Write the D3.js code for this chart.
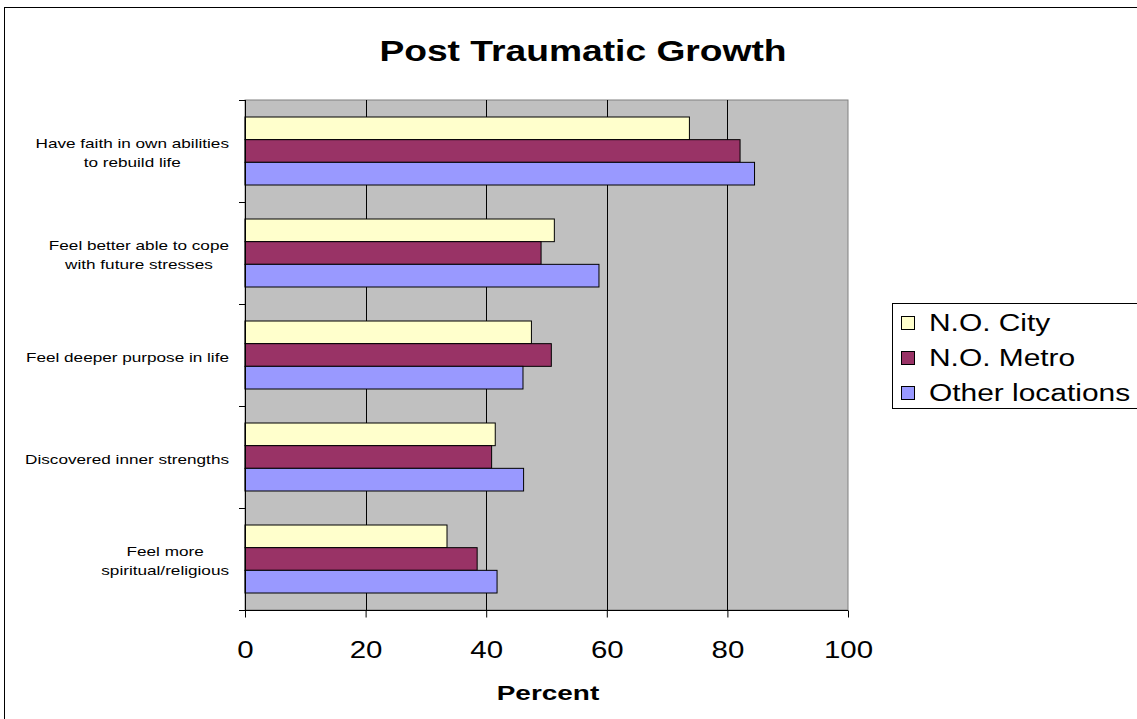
<!DOCTYPE html>
<html>
<head>
<meta charset="utf-8">
<script src="https://cdn.jsdelivr.net/npm/d3@7"></script>
<style>
  html, body { margin: 0; padding: 0; background: #fff; }
  svg { display: block; }
  text { font-family: "Liberation Sans", Arial, sans-serif; }
</style>
</head>
<body>
<svg id="chart" width="1137" height="719"></svg>
<script>
// Survey items (top to bottom), each label split into its wrapped lines
const categories = [
  ["Have faith in own abilities", "to rebuild life"],
  ["Feel better able to cope", "with future stresses"],
  ["Feel deeper purpose in life"],
  ["Discovered inner strengths"],
  ["Feel more", "spiritual/religious"]
];
const seriesNames = ["N.O. City", "N.O. Metro", "Other locations"];
const seriesColors = ["#FFFFCC", "#993366", "#9999FF"];
const noCity  = [73.7, 51.3, 47.5, 41.5, 33.5];
const noMetro = [82.1, 49.1, 50.8, 40.9, 38.5];
const other   = [84.5, 58.7, 46.1, 46.2, 41.8];
const xTicks = [0, 20, 40, 60, 80, 100];

const series = [noCity, noMetro, other];
const svg = d3.select("#chart");

// text in this chart is set horizontally widened
function widen(sel, k) {
  sel.each(function () {
    const w = this.getComputedTextLength();
    d3.select(this).attr("textLength", w * k).attr("lengthAdjust", "spacingAndGlyphs");
  });
  return sel;
}

// outer chart border
svg.append("rect").attr("x", 4.5).attr("y", 7.5).attr("width", 1140).attr("height", 720)
  .attr("fill", "#fff").attr("stroke", "#000").attr("stroke-width", 1);

const plot = { left: 245, right: 848, top: 100, bottom: 610 };

const x = d3.scaleLinear().domain([0, 100]).range([plot.left, plot.right]);
const y = d3.scaleBand().domain(d3.range(categories.length))
  .range([plot.top, plot.bottom]).paddingInner(0).paddingOuter(0);
// each band holds three bars plus a gap of 1.5 bar widths
const barH = y.bandwidth() / 4.5;

// plot area
svg.append("rect").attr("x", plot.left).attr("y", plot.top)
  .attr("width", plot.right - plot.left).attr("height", plot.bottom - plot.top)
  .attr("fill", "#C0C0C0").attr("stroke", "#808080").attr("stroke-width", 1);

// vertical gridlines
svg.append("g").selectAll("line").data(xTicks.filter(t => t > 0 && t < 100)).join("line")
  .attr("x1", d => Math.round(x(d)) + 0.5).attr("x2", d => Math.round(x(d)) + 0.5)
  .attr("y1", plot.top).attr("y2", plot.bottom)
  .attr("stroke", "#000").attr("stroke-width", 1);

// bars
series.forEach((vals, si) => {
  svg.append("g").selectAll("rect").data(vals).join("rect")
    .attr("x", x(0))
    .attr("y", (d, i) => y(i) + barH * 0.75 + si * barH)
    .attr("width", d => x(d) - x(0))
    .attr("height", barH)
    .attr("fill", seriesColors[si])
    .attr("stroke", "#000").attr("stroke-width", 1);
});

// x axis
const xAxis = d3.axisBottom(x).tickValues(xTicks).tickSize(7).tickPadding(24);
const gx = svg.append("g").attr("transform", `translate(0,${plot.bottom + 0.5})`).call(xAxis);
gx.select(".domain").attr("stroke", "#000").attr("d", `M${plot.left},0H${plot.right}`);
gx.selectAll(".tick line").attr("stroke", "#000");
gx.selectAll(".tick text").attr("font-size", 23).attr("fill", "#000")
  .attr("font-family", "Liberation Sans, Arial, sans-serif")
  .call(widen, 1.28);

// y axis line with tick marks at band boundaries
svg.append("line").attr("x1", plot.left + 0.5).attr("x2", plot.left + 0.5)
  .attr("y1", plot.top).attr("y2", plot.bottom).attr("stroke", "#000");
const bounds = d3.range(categories.length + 1).map(i => plot.top + i * y.bandwidth());
svg.append("g").selectAll("line").data(bounds).join("line")
  .attr("x1", plot.left - 6).attr("x2", plot.left)
  .attr("y1", d => Math.round(d) + 0.5).attr("y2", d => Math.round(d) + 0.5)
  .attr("stroke", "#000");

// category labels: wrapped lines centred on each other, block right edge near the axis
const labelRight = 229;
const lineH = 19;
categories.forEach((lines, i) => {
  const g = svg.append("g");
  const cy = y(i) + y.bandwidth() / 2 + 2;
  const texts = lines.map((ln, k) => g.append("text")
    .attr("y", cy + (k - (lines.length - 1) / 2) * lineH)
    .attr("dy", "0.35em")
    .attr("font-size", 13.5).attr("fill", "#000")
    .attr("text-anchor", "middle")
    .text(ln));
  texts.forEach(t => widen(t, 1.27));
  const maxW = d3.max(texts, t => +t.attr("textLength"));
  texts.forEach(t => t.attr("x", labelRight - maxW / 2));
});

// title
svg.append("text").attr("x", 583).attr("y", 61).attr("text-anchor", "middle")
  .attr("font-size", 30).attr("font-weight", "bold").attr("fill", "#000")
  .text("Post Traumatic Growth").call(widen, 1.24);

// x axis title
svg.append("text").attr("x", 548).attr("y", 700).attr("text-anchor", "middle")
  .attr("font-size", 21).attr("font-weight", "bold").attr("fill", "#000")
  .text("Percent").call(widen, 1.33);

// legend
const legend = svg.append("g");
legend.append("rect").attr("x", 892.5).attr("y", 303.5).attr("width", 260).attr("height", 105)
  .attr("fill", "#fff").attr("stroke", "#000");
seriesNames.forEach((name, i) => {
  const cy = 323 + i * 35;
  legend.append("rect").attr("x", 901.5).attr("y", cy - 6.5).attr("width", 13).attr("height", 13)
    .attr("fill", seriesColors[i]).attr("stroke", "#000");
  legend.append("text").attr("x", 929).attr("y", cy).attr("dy", "0.35em")
    .attr("font-size", 23).attr("fill", "#000").text(name).call(widen, 1.30);
});
</script>
</body>
</html>
